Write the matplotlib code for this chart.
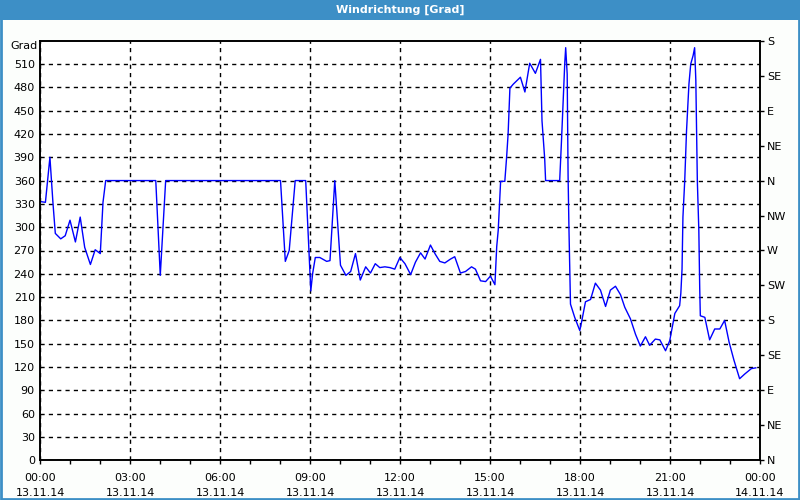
import matplotlib
matplotlib.use('Agg')
import matplotlib.pyplot as plt
from matplotlib.patches import Rectangle

# Wind direction over the day (hours since 13.11.14 00:00, degrees)
hours = [0.00, 0.17, 0.32, 0.42, 0.50, 0.68, 0.83, 0.99, 1.17, 1.33, 1.48, 1.67,
         1.83, 2.00, 2.09, 2.18, 3.85, 4.00, 4.18, 8.01, 8.17, 8.30, 8.50, 8.85,
         9.02, 9.08, 9.17, 9.32, 9.55, 9.66, 9.82, 10.01, 10.19, 10.35, 10.51,
         10.67, 10.85, 11.01, 11.17, 11.32, 11.49, 11.66, 11.82, 11.99, 12.16,
         12.35, 12.51, 12.68, 12.83, 13.01, 13.16, 13.32, 13.49, 13.68, 13.82,
         14.01, 14.18, 14.38, 14.51, 14.68, 14.85, 15.01, 15.16, 15.22, 15.27,
         15.35, 15.49, 15.55, 15.60, 15.66, 15.77, 16.01, 16.16, 16.32, 16.51,
         16.68, 16.73, 16.82, 16.85, 17.32, 17.38, 17.49, 17.52, 17.57, 17.60,
         17.63, 17.68, 17.82, 17.99, 18.05, 18.18, 18.35, 18.51, 18.68, 18.85,
         19.01, 19.18, 19.35, 19.49, 19.68, 19.85, 20.01, 20.18, 20.32, 20.51,
         20.66, 20.85, 20.99, 21.16, 21.32, 21.36, 21.40, 21.43, 21.49, 21.55,
         21.63, 21.69, 21.77, 21.82, 21.86, 21.91, 21.96, 21.99, 22.01, 22.16,
         22.32, 22.49, 22.66, 22.82, 22.97, 23.13, 23.32, 23.49, 23.71, 23.86]
degrees = [333, 332, 390, 332, 292, 285, 289, 309, 281, 313, 274, 252,
           271, 266, 332, 360, 360, 238, 360, 360, 256, 270, 360, 360,
           218, 240, 261, 261, 256, 257, 360, 251, 238, 243, 266,
           232, 249, 241, 253, 248, 249, 248, 246, 261, 253,
           239, 255, 267, 259, 277, 266, 256, 254, 259, 262,
           241, 243, 249, 246, 231, 230, 237, 226, 275, 296,
           359, 359, 390, 420, 479, 484, 493, 474, 511, 498,
           516, 437, 388, 360, 360, 411, 512, 531, 497, 366,
           296, 201, 184, 167, 178, 204, 207, 228, 219, 198,
           219, 224, 213, 197, 182, 162, 147, 159, 148, 156,
           155, 141, 154, 189, 199, 215, 246, 313, 360, 424,
           484, 510, 521, 531, 489, 360, 296, 221, 186, 184,
           155, 169, 169, 180, 152, 129, 105, 111, 118, 119]

x_ticks = [0, 3, 6, 9, 12, 15, 18, 21, 24]
x_labels = ['00:00\n13.11.14', '03:00\n13.11.14', '06:00\n13.11.14',
            '09:00\n13.11.14', '12:00\n13.11.14', '15:00\n13.11.14',
            '18:00\n13.11.14', '21:00\n13.11.14', '00:00\n14.11.14']
y_ticks = list(range(0, 540, 30))
compass_vals = [0, 45, 90, 135, 180, 225, 270, 315, 360, 405, 450, 495, 540]
compass_labels = ['N', 'NE', 'E', 'SE', 'S', 'SW', 'W', 'NW',
                  'N', 'NE', 'E', 'SE', 'S']

bar_blue = '#3d8fc6'
plt.rcParams['font.family'] = 'DejaVu Sans'
plt.rcParams['font.size'] = 8

fig = plt.figure(figsize=(8, 5), dpi=100, facecolor='#fcfefc')
# title bar and frame
fig.patches.append(Rectangle((0, 0.96), 1, 0.04, transform=fig.transFigure,
                             facecolor=bar_blue, edgecolor='none', zorder=0))
fig.patches.append(Rectangle((0.001, 0.002), 0.998, 0.996, transform=fig.transFigure,
                             facecolor='none', edgecolor=bar_blue, lw=2, zorder=1))
fig.text(0.5, 0.98, 'Windrichtung [Grad]', color='white', fontweight='bold',
         ha='center', va='center', fontsize=8)

ax = fig.add_axes([0.0504, 0.0794, 0.8996, 0.8392])
ax.set_facecolor('white')
ax.plot(hours, degrees, color='#0000ff', lw=1)
ax.set_xlim(0, 24)
ax.set_ylim(0, 540)

ax.set_xticks(x_ticks)
ax.set_xticklabels(x_labels, linespacing=1.6)
ax.set_xticks(range(0, 25), minor=True)
ax.tick_params(axis='x', which='both', direction='out', length=3, width=1,
               color='black', pad=6)
ax.set_yticks(y_ticks)
ax.tick_params(axis='y', length=0, pad=4)
ax.grid(True, color='black', linestyle=(0, (3, 3)), lw=1)

ax.text(-0.004, 1.0, 'Grad', transform=ax.transAxes, ha='right', va='top',
        fontsize=8)

ax2 = ax.twinx()
ax2.set_ylim(0, 540)
ax2.set_yticks(compass_vals)
ax2.set_yticklabels(compass_labels)
ax2.tick_params(axis='y', direction='out', length=3, width=1, pad=2)

for a in (ax, ax2):
    for s in a.spines.values():
        s.set_linewidth(1.2)
        s.set_color('black')

fig.savefig('out.png', dpi=100, facecolor=fig.get_facecolor())
